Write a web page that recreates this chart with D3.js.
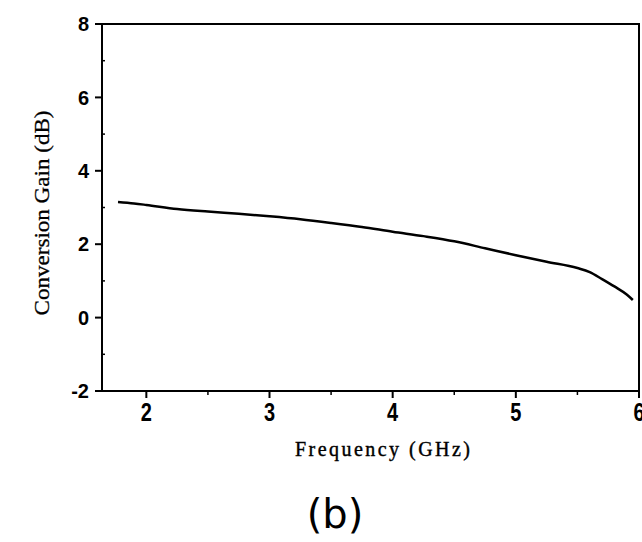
<!DOCTYPE html>
<html><head><meta charset="utf-8">
<script src="https://cdn.jsdelivr.net/npm/d3@7"></script>
<style>body{margin:0;background:#fff}svg{display:block}</style>
</head><body>
<script>
const freq = [1.77,1.9,2.0,2.25,2.5,2.75,3.0,3.25,3.5,3.75,4.0,4.25,4.5,4.75,5.0,5.25,5.5,5.6,5.7,5.8,5.9,5.95];
const gain = [3.15,3.11,3.07,2.96,2.89,2.83,2.76,2.68,2.58,2.47,2.34,2.22,2.08,1.89,1.70,1.52,1.35,1.24,1.05,0.85,0.63,0.48];
const xTicks = [2,3,4,5,6];
const xMinor = [2.5,3.5,4.5,5.5];
const yTicks = [-2,0,2,4,6,8];
const yMinor = [-1,1,3,5,7];
const xTitle = "Frequency (GHz)";
const yTitle = "Conversion Gain (dB)";
const caption = "(b)";

const W=642,H=542;
const svg=d3.select("body").append("svg").attr("width",W).attr("height",H);
const x=d3.scaleLinear().domain([1.64,6]).range([102,639]);
const y=d3.scaleLinear().domain([-2,8]).range([391,24]);

// frame
svg.append("rect").attr("x",x.range()[0]).attr("y",y.range()[1])
  .attr("width",x.range()[1]-x.range()[0]).attr("height",y.range()[0]-y.range()[1])
  .attr("fill","none").attr("stroke","#000").attr("stroke-width",2);

// y ticks
svg.selectAll(".ymaj").data(yTicks).join("line")
  .attr("x1",95).attr("x2",102).attr("y1",d=>y(d)).attr("y2",d=>y(d))
  .attr("stroke","#000").attr("stroke-width",2);
svg.selectAll(".ymin").data(yMinor).join("line")
  .attr("x1",102).attr("x2",105).attr("y1",d=>y(d)).attr("y2",d=>y(d))
  .attr("stroke","#000").attr("stroke-width",1.5);
svg.selectAll(".ylab").data(yTicks).join("text")
  .attr("x",89).attr("y",d=>y(d)).attr("dy","0.36em")
  .attr("text-anchor","end").attr("font-family","Liberation Sans, Arial, sans-serif")
  .attr("font-weight","bold").attr("font-size",20).text(d=>d);

// x ticks
svg.selectAll(".xmaj").data(xTicks).join("line")
  .attr("x1",d=>x(d)).attr("x2",d=>x(d)).attr("y1",391).attr("y2",398)
  .attr("stroke","#000").attr("stroke-width",2);
svg.selectAll(".xmin").data(xMinor).join("line")
  .attr("x1",d=>x(d)).attr("x2",d=>x(d)).attr("y1",391).attr("y2",395)
  .attr("stroke","#000").attr("stroke-width",1.5);
svg.selectAll(".xlab").data(xTicks).join("text")
  .attr("transform",d=>`translate(${x(d)},421) scale(1,1.3)`)
  .attr("text-anchor","middle").attr("font-family","Liberation Sans, Arial, sans-serif")
  .attr("font-weight","bold").attr("font-size",20).text(d=>d);

// curve
const line=d3.line().x(d=>x(d[0])).y(d=>y(d[1])).curve(d3.curveMonotoneX);
svg.append("path").datum(freq.map((f,i)=>[f,gain[i]])).attr("d",line)
  .attr("fill","none").attr("stroke","#000").attr("stroke-width",2.5);

// titles
svg.append("text").attr("x",295).attr("y",456)
  .attr("font-family","Liberation Serif, Times New Roman, serif").attr("font-size",20)
  .attr("stroke","#000").attr("stroke-width",0.4)
  .attr("textLength",175).attr("lengthAdjust","spacing").text(xTitle);
svg.append("text").attr("transform","translate(49,213) rotate(-90)")
  .attr("text-anchor","middle")
  .attr("font-family","Liberation Serif, Times New Roman, serif").attr("font-size",22)
  .attr("stroke","#000").attr("stroke-width",0.3)
  .attr("textLength",205).attr("lengthAdjust","spacingAndGlyphs").text(yTitle);
svg.append("text").attr("x",335).attr("y",528).attr("text-anchor","middle")
  .attr("font-family","DejaVu Sans, sans-serif").attr("font-size",40).text(caption);
</script>
</body></html>
